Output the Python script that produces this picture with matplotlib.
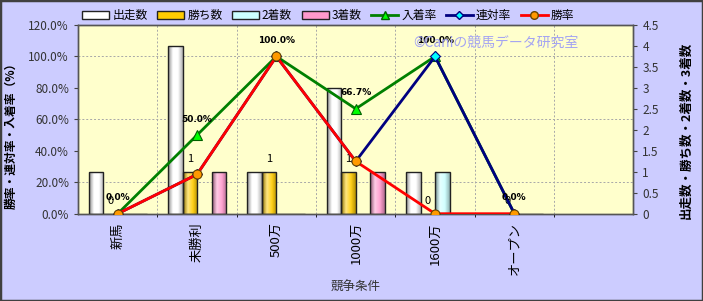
import numpy as np
import matplotlib
matplotlib.use('Agg')
import matplotlib.pyplot as plt
from matplotlib.patches import Patch, Rectangle
from matplotlib.lines import Line2D
from matplotlib.colors import LinearSegmentedColormap, to_rgb

plt.rcParams['font.family'] = ['Noto Sans CJK JP', 'DejaVu Sans']

categories = ['新馬', '未勝利', '500万', '1000万', '1600万', 'オープン']
starts = [1, 4, 1, 3, 1, 0]
wins = [0, 1, 1, 1, 0, 0]
seconds = [0, 0, 0, 0, 1, 0]
thirds = [0, 1, 0, 1, 0, 0]
place_rate = [0.0, 50.0, 100.0, 66.7, 100.0, 0.0]
rentai_rate = [0.0, 25.0, 100.0, 33.3, 100.0, 0.0]
win_rate = [0.0, 25.0, 100.0, 33.3, 0.0, 0.0]

bar_series = [('出走数', starts, '#FFFFFF'),
              ('勝ち数', wins, '#FFCC00'),
              ('2着数', seconds, '#CCFFFF'),
              ('3着数', thirds, '#FF99CC')]

BG = '#CCCCFF'
PLOT_BG = '#FFFFCC'


def shade(color, k):
    c = np.array(to_rgb(color))
    if k < 0:
        return tuple(c * (1 + k))
    return tuple(c + (1 - c) * k)


def gradient_bars(ax, xs, heights, width, color):
    cmap = LinearSegmentedColormap.from_list(
        'cyl', [shade(color, -0.45), shade(color, 0.5), shade(color, 0.1),
                shade(color, -0.3)])
    grad = np.linspace(0, 1, 64).reshape(1, -1)
    bars = ax.bar(xs, heights, width, facecolor='none', edgecolor='#222222',
                  linewidth=1.0, zorder=3)
    for b, h in zip(bars, heights):
        if h <= 0:
            continue
        x0, y0 = b.get_x(), b.get_y()
        im = ax.imshow(grad, extent=[x0, x0 + b.get_width(), y0, y0 + h],
                       cmap=cmap, aspect='auto', zorder=2)
        im.set_clip_path(b)
    return bars


fig = plt.figure(figsize=(7.03, 3.01), dpi=100, facecolor=BG)
ax = fig.add_axes([0.111, 0.29, 0.79, 0.627])
ax2 = ax.twinx()
ax.set_zorder(ax2.get_zorder() + 1)
ax.patch.set_visible(False)
ax2.patch.set_visible(True)
ax2.patch.set_facecolor(PLOT_BG)
ax2.xaxis.set_visible(True)

x = np.arange(len(categories))
w = 0.183
for i, (name, vals, col) in enumerate(bar_series):
    gradient_bars(ax2, x + (i - 1.5) * w, vals, w, col)

# count labels above the win bars
for xi, v in zip(x, wins):
    ax2.annotate(str(v), (xi - 0.5 * w, v), xytext=(0, 9.5),
                 textcoords='offset points', ha='center', va='center',
                 fontsize=8, color='black', zorder=6)

ax.plot(x, place_rate, color='#008000', lw=2, marker='^', ms=7,
        mfc='#00FF00', mec='#006000', mew=0.8, zorder=3)
ax.plot(x, rentai_rate, color='#000080', lw=2, marker='D', ms=5,
        mfc='#00FFFF', mec='#000080', mew=0.8, zorder=4)
ax.plot(x, win_rate, color='#FF0000', lw=2, marker='o', ms=6.5,
        mfc='#FF9900', mec='#664400', mew=0.8, zorder=5)

for xi, v in zip(x, place_rate):
    ax.annotate(f'{v:.1f}%', (xi, v), xytext=(0, 11.5),
                textcoords='offset points', ha='center', va='center',
                fontsize=6.5, fontweight='bold', family='DejaVu Sans', zorder=6)

ax.set_xlim(-0.5, 6.5)
ax2.set_xlim(-0.5, 6.5)
ax.set_ylim(0, 120)
ax2.set_ylim(0, 4.5)

ax.set_xticks(x)
ax.set_xticklabels(categories, rotation=90, fontsize=9.5)
ax.tick_params(axis='x', length=0, pad=6)
ax.set_yticks(np.arange(0, 121, 20))
ax.set_yticklabels([f'{v:.1f}%' for v in np.arange(0, 121, 20)])
ax.tick_params(axis='y', length=3, direction='out', labelsize=8.5,
               labelcolor='#333333', color='#444444')
ax2.set_yticks(np.arange(0, 4.51, 0.5))
ax2.set_yticklabels(['0', '0.5', '1', '1.5', '2', '2.5', '3', '3.5', '4', '4.5'])
ax2.tick_params(axis='y', length=3, direction='out', labelsize=8.5,
                labelcolor='#333333', color='#444444')
ax2.tick_params(axis='x', length=0, labelbottom=False)

# grid drawn on the back axes so the bars cover it
ax2.set_yticks(np.linspace(0, 4.5, 7), minor=True)
ax2.xaxis.set_ticks(np.arange(0.5, 6.5, 1), minor=True)
ax2.tick_params(which='minor', length=0, labelbottom=False)
ax2.grid(which='minor', color='#A8A8A8', linestyle=(0, (2, 2)), linewidth=0.7)

for a in (ax, ax2):
    for s in a.spines.values():
        s.set_color('#555555')
        s.set_linewidth(1.0)

ax.set_ylabel('勝率・連対率・入着率（%）', fontsize=8.5, fontweight='bold')
ax.yaxis.set_label_coords(-0.108, 0.43)
ax2.set_ylabel('出走数・勝ち数・2着数・3着数', fontsize=9, fontweight='bold',
               rotation=90)
ax2.yaxis.set_label_coords(1.083, 0.44)
ax.set_xlabel('競争条件', fontsize=9, color='#333333', labelpad=4)

fig.text(0.705, 0.857, '©Caniの競馬データ研究室', fontsize=10, color='#A4A4F2',
         ha='center', va='center')

handles = [Patch(facecolor=c, edgecolor='#222222', label=n) for n, _, c in bar_series]
handles += [
    Line2D([], [], color='#008000', lw=2, marker='^', ms=6, mfc='#00FF00',
           mec='#006000', label='入着率'),
    Line2D([], [], color='#000080', lw=2, marker='D', ms=4, mfc='#00FFFF',
           mec='#000080', label='連対率'),
    Line2D([], [], color='#FF0000', lw=2, marker='o', ms=5.5, mfc='#FF9900',
           mec='#664400', label='勝率'),
]
fig.legend(handles=handles, loc='center left', bbox_to_anchor=(0.117, 0.948),
           ncol=7, frameon=False, fontsize=8.5, handlelength=2.3,
           handleheight=0.6, handletextpad=0.25, columnspacing=0.8,
           borderaxespad=0, borderpad=0)

fig.patches.append(Rectangle((0, 0), 1, 1, transform=fig.transFigure,
                             fill=False, edgecolor='#404040', linewidth=2.5))

fig.savefig('out.png', dpi=100, facecolor=BG)
